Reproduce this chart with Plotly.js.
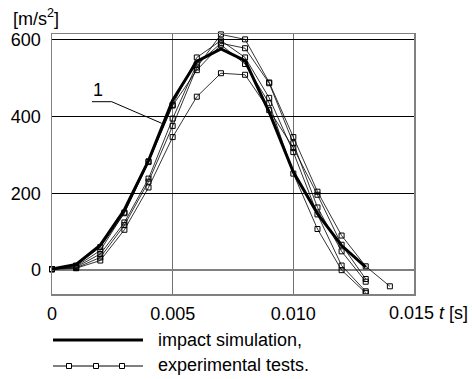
<!DOCTYPE html>
<html>
<head>
<meta charset="utf-8">
<script src="https://cdn.plot.ly/plotly-3.0.1.min.js"></script>
<style>html,body{margin:0;padding:0;background:#fff;}#chart{width:472px;height:379px;}</style>
</head>
<body>
<div id="chart"></div>
<script>
// time [s]
var timeSim = [0, 0.001, 0.002, 0.003, 0.004, 0.005, 0.006, 0.007, 0.008, 0.009, 0.010, 0.011, 0.012, 0.013];
// impact simulation [m/s^2]
var simValues = [3, 15, 65, 157, 285, 442, 543, 575, 545, 411, 255, 147, 64, 8];

// experimental tests [m/s^2]
var timeExp1 = [0, 0.001, 0.002, 0.003, 0.004, 0.005, 0.006, 0.007, 0.008, 0.009, 0.010, 0.011, 0.012, 0.013, 0.014];
var exp1 = [3, 6, 33, 117, 230, 375, 527, 613, 600, 488, 346, 204, 90, 10, -42];
var timeExp = [0, 0.001, 0.002, 0.003, 0.004, 0.005, 0.006, 0.007, 0.008, 0.009, 0.010, 0.011, 0.012, 0.013];
var exp2 = [3, 8, 42, 124, 238, 394, 535, 590, 577, 486, 330, 163, 49, -30];
var exp3 = [3, 10, 51, 150, 283, 430, 553, 597, 553, 448, 307, 145, 12, -55];
var exp4 = [2, 12, 60, 148, 281, 428, 520, 586, 536, 434, 251, 107, 0, -59];
var exp5 = [2, 5, 25, 105, 215, 346, 451, 512, 508, 416, 318, 196, 66, -23];

var xTickVals = [0, 0.005, 0.010];
var xTickText = ['0', '0.005', '0.010'];
var yTickVals = [0, 200, 400, 600];
var yTickText = ['0', '200', '400', '600'];

var FONT = 'Liberation Sans, Arial, sans-serif';
var FS = 18;

function expTrace(x, y) {
  return {
    x: x, y: y, type: 'scatter', mode: 'lines+markers', showlegend: false,
    line: {color: '#000', width: 0.8},
    marker: {symbol: 'square-open', size: 5, color: '#000', line: {width: 1, color: '#000'}},
    cliponaxis: false
  };
}

var traces = [
  expTrace(timeExp1, exp1),
  expTrace(timeExp, exp2),
  expTrace(timeExp, exp3),
  expTrace(timeExp, exp4),
  expTrace(timeExp, exp5),
  {x: timeSim, y: simValues, type: 'scatter', mode: 'lines', showlegend: false,
   line: {color: '#000', width: 3}}
];

function px(x) { return (x - 52) / 362; }
function py(y) { return (294 - y) / 260; }

var shapes = [
  // leader line for label "1"
  {type: 'path', xref: 'paper', yref: 'paper',
   path: 'M' + px(92) + ',' + py(101.7) + ' L' + px(111.7) + ',' + py(101.7) + ' L' + px(161.7) + ',' + py(123.3),
   line: {color: '#000', width: 1}},
  // legend: simulation
  {type: 'line', xref: 'paper', yref: 'paper', x0: px(53), x1: px(143), y0: py(340), y1: py(340),
   line: {color: '#000', width: 3}},
  // legend: experimental
  {type: 'line', xref: 'paper', yref: 'paper', x0: px(53), x1: px(143), y0: py(366), y1: py(366),
   line: {color: '#000', width: 1}}
];
[69, 96, 122].forEach(function (cx) {
  shapes.push({type: 'rect', xref: 'paper', yref: 'paper',
    x0: px(cx - 2.5), x1: px(cx + 2.5), y0: py(366 + 2.5), y1: py(366 - 2.5),
    fillcolor: '#fff', line: {color: '#000', width: 1}});
});

var annotations = [
  {text: '[m/s<sup>2</sup>]', xref: 'paper', yref: 'paper', x: px(11), y: py(17),
   xanchor: 'left', yanchor: 'middle', showarrow: false, font: {family: FONT, size: FS, color: '#000'}},
  {text: '0.015 <i>t</i> [s]', xref: 'paper', yref: 'paper', x: px(387), y: py(313),
   xanchor: 'left', yanchor: 'middle', showarrow: false, font: {family: FONT, size: FS, color: '#000'}},
  {text: '1', xref: 'paper', yref: 'paper', x: px(98), y: py(90),
   xanchor: 'center', yanchor: 'middle', showarrow: false, font: {family: FONT, size: FS, color: '#000'}},
  {text: 'impact simulation,', xref: 'paper', yref: 'paper', x: px(156), y: py(340),
   xanchor: 'left', yanchor: 'middle', showarrow: false, font: {family: FONT, size: FS, color: '#000'}},
  {text: 'experimental tests.', xref: 'paper', yref: 'paper', x: px(156), y: py(365),
   xanchor: 'left', yanchor: 'middle', showarrow: false, font: {family: FONT, size: FS, color: '#000'}}
];

var layout = {
  width: 472, height: 379,
  margin: {l: 52, r: 58, t: 34, b: 85, pad: 0},
  paper_bgcolor: '#fff', plot_bgcolor: '#fff',
  font: {family: FONT, size: FS, color: '#000'},
  showlegend: false,
  xaxis: {
    range: [0, 0.015], tickvals: xTickVals, ticktext: xTickText,
    showgrid: true, gridcolor: '#707070', gridwidth: 1,
    zeroline: false, showline: true, mirror: true, linecolor: '#808080', linewidth: 1.5,
    ticks: 'outside', ticklen: 3, tickcolor: 'rgba(0,0,0,0)',
    tickfont: {family: FONT, size: FS, color: '#000'}
  },
  yaxis: {
    range: [-62, 614], tickvals: yTickVals, ticktext: yTickText,
    showgrid: true, gridcolor: '#000', gridwidth: 1,
    zeroline: true, zerolinecolor: '#808080', zerolinewidth: 1.5,
    showline: true, mirror: true, linecolor: '#808080', linewidth: 1.5,
    ticks: 'outside', ticklen: 6, tickcolor: 'rgba(0,0,0,0)',
    tickfont: {family: FONT, size: FS, color: '#000'}
  },
  shapes: shapes,
  annotations: annotations
};

Plotly.newPlot('chart', traces, layout, {staticPlot: true, displayModeBar: false});
</script>
</body>
</html>
